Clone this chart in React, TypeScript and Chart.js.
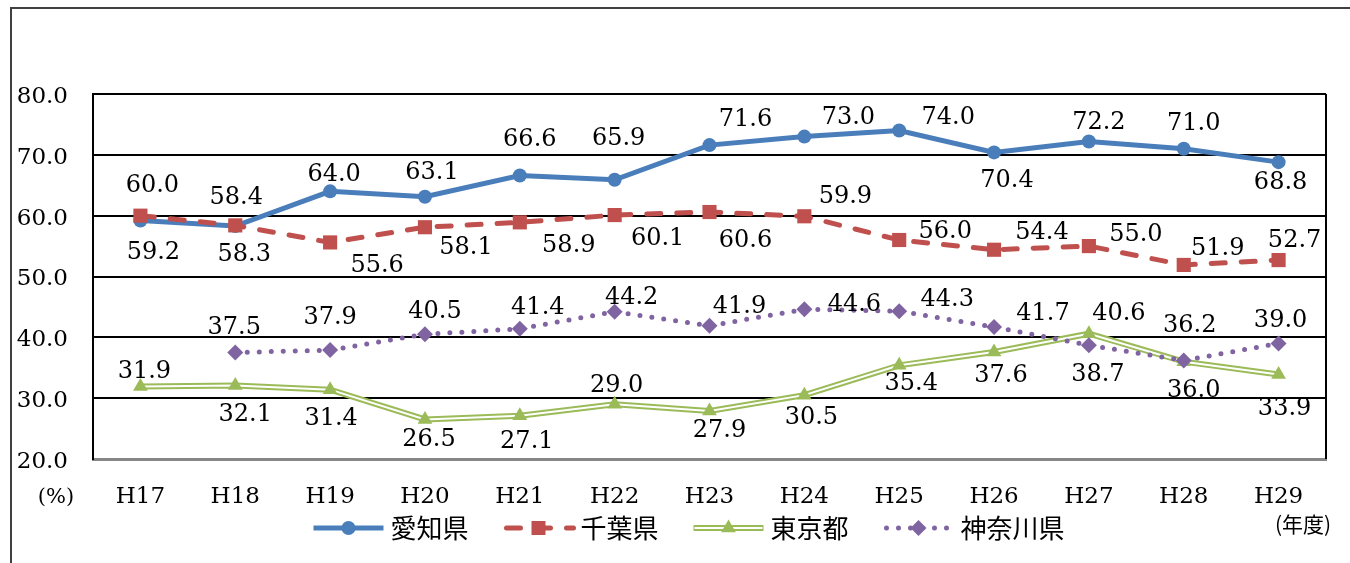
import React, { useEffect, useRef } from 'react';
import { Chart, registerables } from 'chart.js';

Chart.register(...registerables);

const categories = ['H17', 'H18', 'H19', 'H20', 'H21', 'H22', 'H23', 'H24', 'H25', 'H26', 'H27', 'H28', 'H29'];
const aichi = [59.2, 58.3, 64.0, 63.1, 66.6, 65.9, 71.6, 73.0, 74.0, 70.4, 72.2, 71.0, 68.8];
const chiba = [60.0, 58.4, 55.6, 58.1, 58.9, 60.1, 60.6, 59.9, 56.0, 54.4, 55.0, 51.9, 52.7];
const tokyo = [31.9, 32.1, 31.4, 26.5, 27.1, 29.0, 27.9, 30.5, 35.4, 37.6, 40.6, 36.0, 33.9];
const kanagawa = [null, 37.5, 37.9, 40.5, 41.4, 44.2, 41.9, 44.6, 44.3, 41.7, 38.7, 36.2, 39.0];
const seriesNames = ['愛知県', '千葉県', '東京都', '神奈川県'];
const yMin = 20;
const yMax = 80;
const yStep = 10;
const yUnit = '(%)';
const xUnit = '(年度)';

// label placement (offset from the point, px)
const aichiLabelPos = [[13, 32], [9, 29], [4, -17], [7, -24], [10, -36], [4, -41], [36, -25], [44, -19], [49, -13], [13, 28], [10, -19], [10, -25], [2, 21]];
const chibaLabelPos = [[12, -30], [1, -28], [47, 23], [41, 21], [49, 23], [43, 24], [36, 29], [41, -20], [46, -8], [48, -17], [47, -11], [34, -16], [16, -19]];
const tokyoLabelPos = [[4, -15], [10, 29], [1, 29], [4, 20], [7, 26], [2, -18], [10, 20], [7, 23], [12, 18], [7, 24], [30, -20], [10, 29], [6, 34]];
const kanagawaLabelPos = [null, [-1, -25], [0, -32], [10, -23], [18, -21], [17, -14], [30, -19], [50, -5], [48, -11], [49, -13], [9, 30], [6, -35], [2, -23]];

const BLUE = '#4A7EBB';
const RED = '#C0504D';
const GREEN = '#9BBB59';
const PURPLE = '#8064A2';
const SERIF = '"DejaVu Serif", serif';
const CJK = '"Noto Sans CJK JP", sans-serif';

const labelPlugin = {
  id: 'valueLabels',
  afterDatasetsDraw(chart: any) {
    const ctx = chart.ctx;
    const specs = [
      { idx: 0, data: aichi, pos: aichiLabelPos },
      { idx: 1, data: chiba, pos: chibaLabelPos },
      { idx: 4, data: tokyo, pos: tokyoLabelPos },
      { idx: 5, data: kanagawa, pos: kanagawaLabelPos },
    ];
    ctx.save();
    ctx.font = `24px ${SERIF}`;
    ctx.fillStyle = '#000';
    ctx.textAlign = 'center';
    ctx.textBaseline = 'middle';
    for (const s of specs) {
      const meta = chart.getDatasetMeta(s.idx);
      s.data.forEach((v: any, i: number) => {
        const p = s.pos[i] as any;
        if (v == null || !p) return;
        const el = meta.data[i];
        ctx.fillText(Number(v).toFixed(1), el.x + p[0], el.y + p[1]);
      });
    }
    ctx.restore();
  },
};

const framePlugin = {
  id: 'frame',
  afterDraw(chart: any) {
    const ctx = chart.ctx;
    const ca = chart.chartArea;
    ctx.save();
    // outer frame
    ctx.strokeStyle = '#404040';
    ctx.lineWidth = 2;
    ctx.beginPath();
    ctx.moveTo(11, chart.height);
    ctx.lineTo(11, 8);
    ctx.lineTo(chart.width, 8);
    ctx.stroke();
    // right border of plot
    ctx.strokeStyle = '#000';
    ctx.lineWidth = 2;
    ctx.beginPath();
    ctx.moveTo(ca.right, ca.top);
    ctx.lineTo(ca.right, ca.bottom);
    ctx.stroke();

    // unit texts
    ctx.fillStyle = '#000';
    ctx.textBaseline = 'middle';
    ctx.textAlign = 'center';
    ctx.font = `21px ${SERIF}`;
    ctx.fillText(yUnit, 56, 498);
    ctx.font = `21px ${CJK}`;
    ctx.fillText(xUnit, 1303, 524);

    // legend
    const ly = 528;
    const lineLen = 70;
    const gapText = 7;
    const itemGap = 35;
    ctx.font = `26px ${CJK}`;
    const widths = seriesNames.map((n) => lineLen + gapText + ctx.measureText(n).width);
    const total = widths.reduce((a, b) => a + b, 0) + itemGap * (seriesNames.length - 1);
    let x = 689 - total / 2;
    seriesNames.forEach((name, i) => {
      const x0 = x;
      const x1 = x + lineLen;
      const cx = (x0 + x1) / 2;
      ctx.save();
      ctx.lineCap = 'butt';
      if (i === 0) {
        ctx.strokeStyle = BLUE;
        ctx.lineWidth = 5;
        ctx.beginPath(); ctx.moveTo(x0, ly); ctx.lineTo(x1, ly); ctx.stroke();
        ctx.fillStyle = BLUE;
        ctx.beginPath(); ctx.arc(cx, ly, 7, 0, Math.PI * 2); ctx.fill();
      } else if (i === 1) {
        ctx.strokeStyle = RED;
        ctx.lineWidth = 5;
        ctx.lineCap = 'round';
        ctx.setLineDash([14, 16]);
        ctx.beginPath(); ctx.moveTo(x0 + 3, ly); ctx.lineTo(x1, ly); ctx.stroke();
        ctx.setLineDash([]);
        ctx.fillStyle = RED;
        ctx.fillRect(cx - 7, ly - 7, 14, 14);
      } else if (i === 2) {
        ctx.strokeStyle = GREEN;
        ctx.lineWidth = 6;
        ctx.beginPath(); ctx.moveTo(x0, ly); ctx.lineTo(x1, ly); ctx.stroke();
        ctx.strokeStyle = '#fff';
        ctx.lineWidth = 2;
        ctx.beginPath(); ctx.moveTo(x0 + 1, ly); ctx.lineTo(x1 - 1, ly); ctx.stroke();
        ctx.fillStyle = GREEN;
        const r = 8.5;
        ctx.beginPath();
        ctx.moveTo(cx, ly - r);
        ctx.lineTo(cx + r * 0.866, ly + r / 2);
        ctx.lineTo(cx - r * 0.866, ly + r / 2);
        ctx.closePath();
        ctx.fill();
      } else {
        ctx.strokeStyle = PURPLE;
        ctx.lineWidth = 5;
        ctx.lineCap = 'round';
        ctx.setLineDash([0, 12]);
        ctx.beginPath(); ctx.moveTo(x0 + 3, ly); ctx.lineTo(x1, ly); ctx.stroke();
        ctx.setLineDash([]);
        ctx.fillStyle = PURPLE;
        const r = 8;
        ctx.beginPath();
        ctx.moveTo(cx, ly - r);
        ctx.lineTo(cx + r, ly);
        ctx.lineTo(cx, ly + r);
        ctx.lineTo(cx - r, ly);
        ctx.closePath();
        ctx.fill();
      }
      ctx.restore();
      ctx.fillStyle = '#000';
      ctx.textAlign = 'left';
      ctx.textBaseline = 'middle';
      ctx.font = `26px ${CJK}`;
      ctx.fillText(name, x1 + gapText, ly);
      x += widths[i] + itemGap;
    });
    ctx.restore();
  },
};

export default function App() {
  const canvasRef = useRef<HTMLCanvasElement | null>(null);

  useEffect(() => {
    const canvas = canvasRef.current;
    if (!canvas) return;
    const tickFont = { family: SERIF, size: 23 };
    const chart = new Chart(canvas, {
      type: 'line',
      data: {
        labels: categories,
        datasets: [
          {
            label: seriesNames[0],
            data: aichi,
            borderColor: BLUE,
            backgroundColor: BLUE,
            borderWidth: 5,
            pointStyle: 'circle',
            pointRadius: 7,
            pointBorderWidth: 0,
            pointBackgroundColor: BLUE,
            tension: 0,
            order: 6,
          },
          {
            label: seriesNames[1],
            data: chiba,
            borderColor: RED,
            backgroundColor: RED,
            borderWidth: 5,
            borderDash: [14, 16],
            borderCapStyle: 'round',
            pointStyle: 'rect',
            pointRadius: 10,
            pointBorderWidth: 0,
            pointBackgroundColor: RED,
            tension: 0,
            order: 5,
          },
          {
            label: seriesNames[2] + '-outer',
            data: tokyo,
            borderColor: GREEN,
            borderWidth: 6,
            pointRadius: 0,
            tension: 0,
            order: 4,
          },
          {
            label: seriesNames[2] + '-inner',
            data: tokyo,
            borderColor: '#ffffff',
            borderWidth: 2,
            pointRadius: 0,
            tension: 0,
            order: 3,
          },
          {
            label: seriesNames[2],
            data: tokyo,
            showLine: false,
            pointStyle: 'triangle',
            pointRadius: 8.5,
            pointBorderWidth: 0,
            pointBackgroundColor: GREEN,
            backgroundColor: GREEN,
            borderColor: GREEN,
            order: 2,
          },
          {
            label: seriesNames[3],
            data: kanagawa,
            borderColor: PURPLE,
            backgroundColor: PURPLE,
            borderWidth: 5,
            borderDash: [0, 12],
            borderCapStyle: 'round',
            pointStyle: 'rectRot',
            pointRadius: 8,
            pointBorderWidth: 0,
            pointBackgroundColor: PURPLE,
            tension: 0,
            order: 1,
          },
        ],
      },
      options: {
        responsive: false,
        animation: false,
        layout: { padding: { left: 0, right: 24, top: 94, bottom: 0 } },
        plugins: {
          legend: { display: false },
          tooltip: { enabled: false },
          title: { display: false },
        },
        scales: {
          x: {
            offset: true,
            grid: { display: false, drawTicks: false, offset: true },
            border: { display: true, color: '#868686', width: 3 },
            ticks: { font: tickFont, color: '#000', padding: 24, maxRotation: 0, autoSkip: false },
            afterFit: (s: any) => { s.height = 104; },
          },
          y: {
            min: yMin,
            max: yMax,
            ticks: {
              stepSize: yStep,
              font: tickFont,
              color: '#000',
              padding: 25,
              labelOffset: 3,
              callback: (v: any) => Number(v).toFixed(1),
            },
            grid: {
              color: (c: any) => (c.tick && c.tick.value === yMin ? 'rgba(0,0,0,0)' : '#000'),
              lineWidth: 2,
              drawTicks: false,
            },
            border: { color: '#000', width: 2 },
            afterFit: (s: any) => { s.width = 93; },
          },
        },
      } as any,
      plugins: [labelPlugin, framePlugin],
    });
    return () => chart.destroy();
  }, []);

  return (
    <div style={{ position: 'absolute', left: 0, top: 0, width: 1350, height: 563, background: '#fff' }}>
      <canvas ref={canvasRef} width={1350} height={563} style={{ width: 1350, height: 563, display: 'block' }} />
    </div>
  );
}
